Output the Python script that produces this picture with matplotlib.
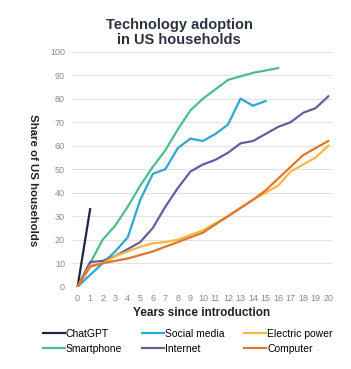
import numpy as np
import matplotlib
matplotlib.use("Agg")
import matplotlib.pyplot as plt

plt.rcParams['font.family'] = ['Liberation Sans', 'DejaVu Sans']

# values (percent of US households)
chatgpt = [0, 33]
smartphone = [0, 10, 20, 26, 34, 43, 51, 58, 67, 75, 80, 84, 88, 89.5, 91, 92, 93]
social_media = [0, 5, 10, 15, 21, 37, 48, 50, 59, 63, 62, 65, 69, 80, 77, 79]
internet = [0, 10.5, 11, 13, 16, 19, 25, 34, 42, 49, 52, 54, 57, 61, 62, 65, 68, 70, 74, 76, 81]
electric_power = [0, 9, 10, 13, 15, 17, 18.5, 19, 20, 22, 24, 27, 30, 33.5, 37, 40, 43, 49, 52, 55, 60]
computer = [0, 8.5, 10, 11, 12, 13.5, 15, 17, 19, 21, 23, 26.5, 30, 33.5, 37, 41, 46, 51, 56, 59, 62]

series = [
    ("ChatGPT", chatgpt, "#1e2740"),
    ("Smartphone", smartphone, "#4dbd8c"),
    ("Social media", social_media, "#2ea6d6"),
    ("Internet", internet, "#6b5b9e"),
    ("Electric power", electric_power, "#f4b942"),
    ("Computer", computer, "#e0762c"),
]

fig = plt.figure(figsize=(3.51, 3.69), dpi=100)
ax = fig.add_axes([0.205, 0.223, 0.741, 0.637])

lines = {}
for name, vals, col in series:
    ln, = ax.plot(np.arange(len(vals)), vals, color=col, lw=1.6)
    lines[name] = ln

ax.set_xlim(-0.45, 20.3)
ax.set_ylim(0, 100)
ax.set_xticks(range(0, 21))
ax.set_yticks(range(0, 101, 10))
ax.grid(axis='y', color='#e3e3e3', lw=0.8)
ax.set_axisbelow(True)
for s in ax.spines.values():
    s.set_visible(False)
ax.tick_params(length=0, labelsize=6.5, labelcolor='#8a8a8a', pad=5)

ax.set_xlabel("Years since introduction", fontsize=8.5, fontweight='bold',
              color='#222222', labelpad=3)
ax.set_ylabel("Share of US households", fontsize=8.2, fontweight='bold',
              color='#222222', rotation=270, va='center')
ax.yaxis.set_label_coords(-0.15, 0.455)
fig.text(0.51, 0.912, "Technology adoption\nin US households", ha='center',
         va='center', fontsize=10.5, fontweight='bold', color='#2b3340',
         linespacing=1.1)

# legend fills column-wise, so this order gives the row layout of the original
col_order = ["ChatGPT", "Smartphone", "Social media", "Internet",
             "Electric power", "Computer"]
fig.legend([lines[n] for n in col_order], col_order, ncol=3,
           loc='upper center', bbox_to_anchor=(0.535, 0.135), frameon=False,
           fontsize=7.5, handlelength=2.1, handletextpad=0.1,
           columnspacing=1.9, labelspacing=0.5)

fig.savefig("out.png", dpi=100)
